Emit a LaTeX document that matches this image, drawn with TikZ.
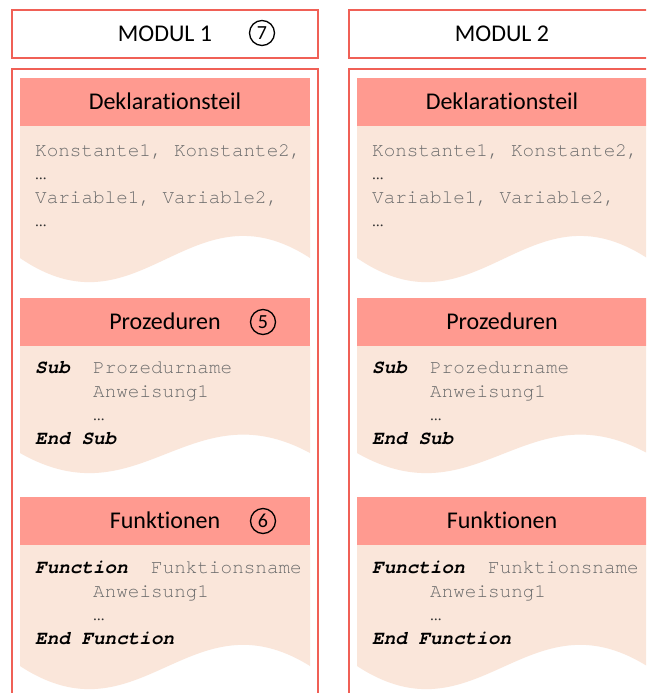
\documentclass[tikz,border=0pt]{standalone}
\usepackage{fontspec}
\setmainfont{Carlito}[Ligatures=CommonOff]
\setmonofont{TeX Gyre Cursor}

\definecolor{frame}{RGB}{240,96,86}
\definecolor{headfill}{RGB}{255,154,144}
\definecolor{bodyfill}{RGB}{250,230,218}
\definecolor{codegray}{RGB}{108,108,108}
\definecolor{dotgray}{RGB}{50,50,50}

\tikzset{
  modframe/.style={draw=frame, line width=1.3pt},
  headband/.style={fill=headfill},
  bodyband/.style={fill=bodyfill},
  title/.style={anchor=base, inner sep=0pt, font=\fontsize{24}{28}\selectfont},
  code/.style={anchor=base west, inner sep=0pt, text=codegray,
    font=\ttfamily\fontsize{19.3}{23}\selectfont},
  kw/.style={code, text=black, font=\ttfamily\bfseries\itshape\fontsize{19.3}{23}\selectfont},
  dots/.style={code, text=dotgray},
  badge/.style={circle, draw=black, line width=1.3pt, minimum size=25pt,
    inner sep=0pt, font=\fontsize{20}{24}\selectfont},
}

% one section: header band with title, body with a wavy lower edge
% #1 name, #2 header top, #3 left end of the wave, #4 wave amplitude, #5 title
\newcommand\codesection[5]{%
  \fill[headband] (20,#2) rectangle (310,#2+48);
  \fill[bodyband] (20,#2+48) -- (310,#2+48) -- (310,#3)
     .. controls (190,#3-3.25*#4) and (140,#3+3.42*#4) .. (20,#3) -- cycle;
  \node[title] (#1) at (165,#2+31) {#5};
}

% a whole module column; #2..#4 are the optional circled marks
\newcommand\drawmodule[4]{%
  \draw[modframe] (12,10) rectangle (318,58);
  \node[title] (modname) at (165,42) {#1};
  \draw[modframe] (12,69) rectangle (318,720);
  \codesection{decl}{78}{258}{24}{Deklarationsteil}
  \node[code] (k1) at (35,156) {Konstante1, Konstante2,};
  \node[dots] (k2) at (35,179) {…};
  \node[code] (v1) at (35,203) {Variable1, Variable2,};
  \node[dots] (v2) at (35,226) {…};
  \codesection{proc}{298}{453}{20}{Prozeduren}
  \node[kw]   (p1) at (35,373) {Sub};
  \node[code] (p2) at (93,373) {Prozedurname};
  \node[code] (p3) at (93,397) {Anweisung1};
  \node[dots] (p4) at (93,420) {…};
  \node[kw]   (p5) at (35,444) {End Sub};
  \codesection{func}{497}{666}{23}{Funktionen}
  \node[kw]   (f1) at (35,573) {Function};
  \node[code] (f2) at (151,573) {Funktionsname};
  \node[code] (f3) at (93,597) {Anweisung1};
  \node[dots] (f4) at (93,620) {…};
  \node[kw]   (f5) at (35,644) {End Function};
  \ifx&#2&\else\node[badge] (mark-mod) at (262,33) {#2};\fi
  \ifx&#3&\else\node[badge] (mark-proc) at (263,322) {#3};\fi
  \ifx&#4&\else\node[badge] (mark-func) at (263,521) {#4};\fi
}

\begin{document}
\begin{tikzpicture}[x=1pt, y=-1pt]
  \useasboundingbox (0,0) rectangle (646,693);
  \clip (0,0) rectangle (646,693);
  \fill[white] (0,0) rectangle (646,693);
  \begin{scope}[name prefix=m1-]
    \drawmodule{MODUL 1}{7}{5}{6}
  \end{scope}
  \begin{scope}[xshift=337pt, name prefix=m2-]
    \drawmodule{MODUL 2}{}{}{}
  \end{scope}
\end{tikzpicture}
\end{document}
